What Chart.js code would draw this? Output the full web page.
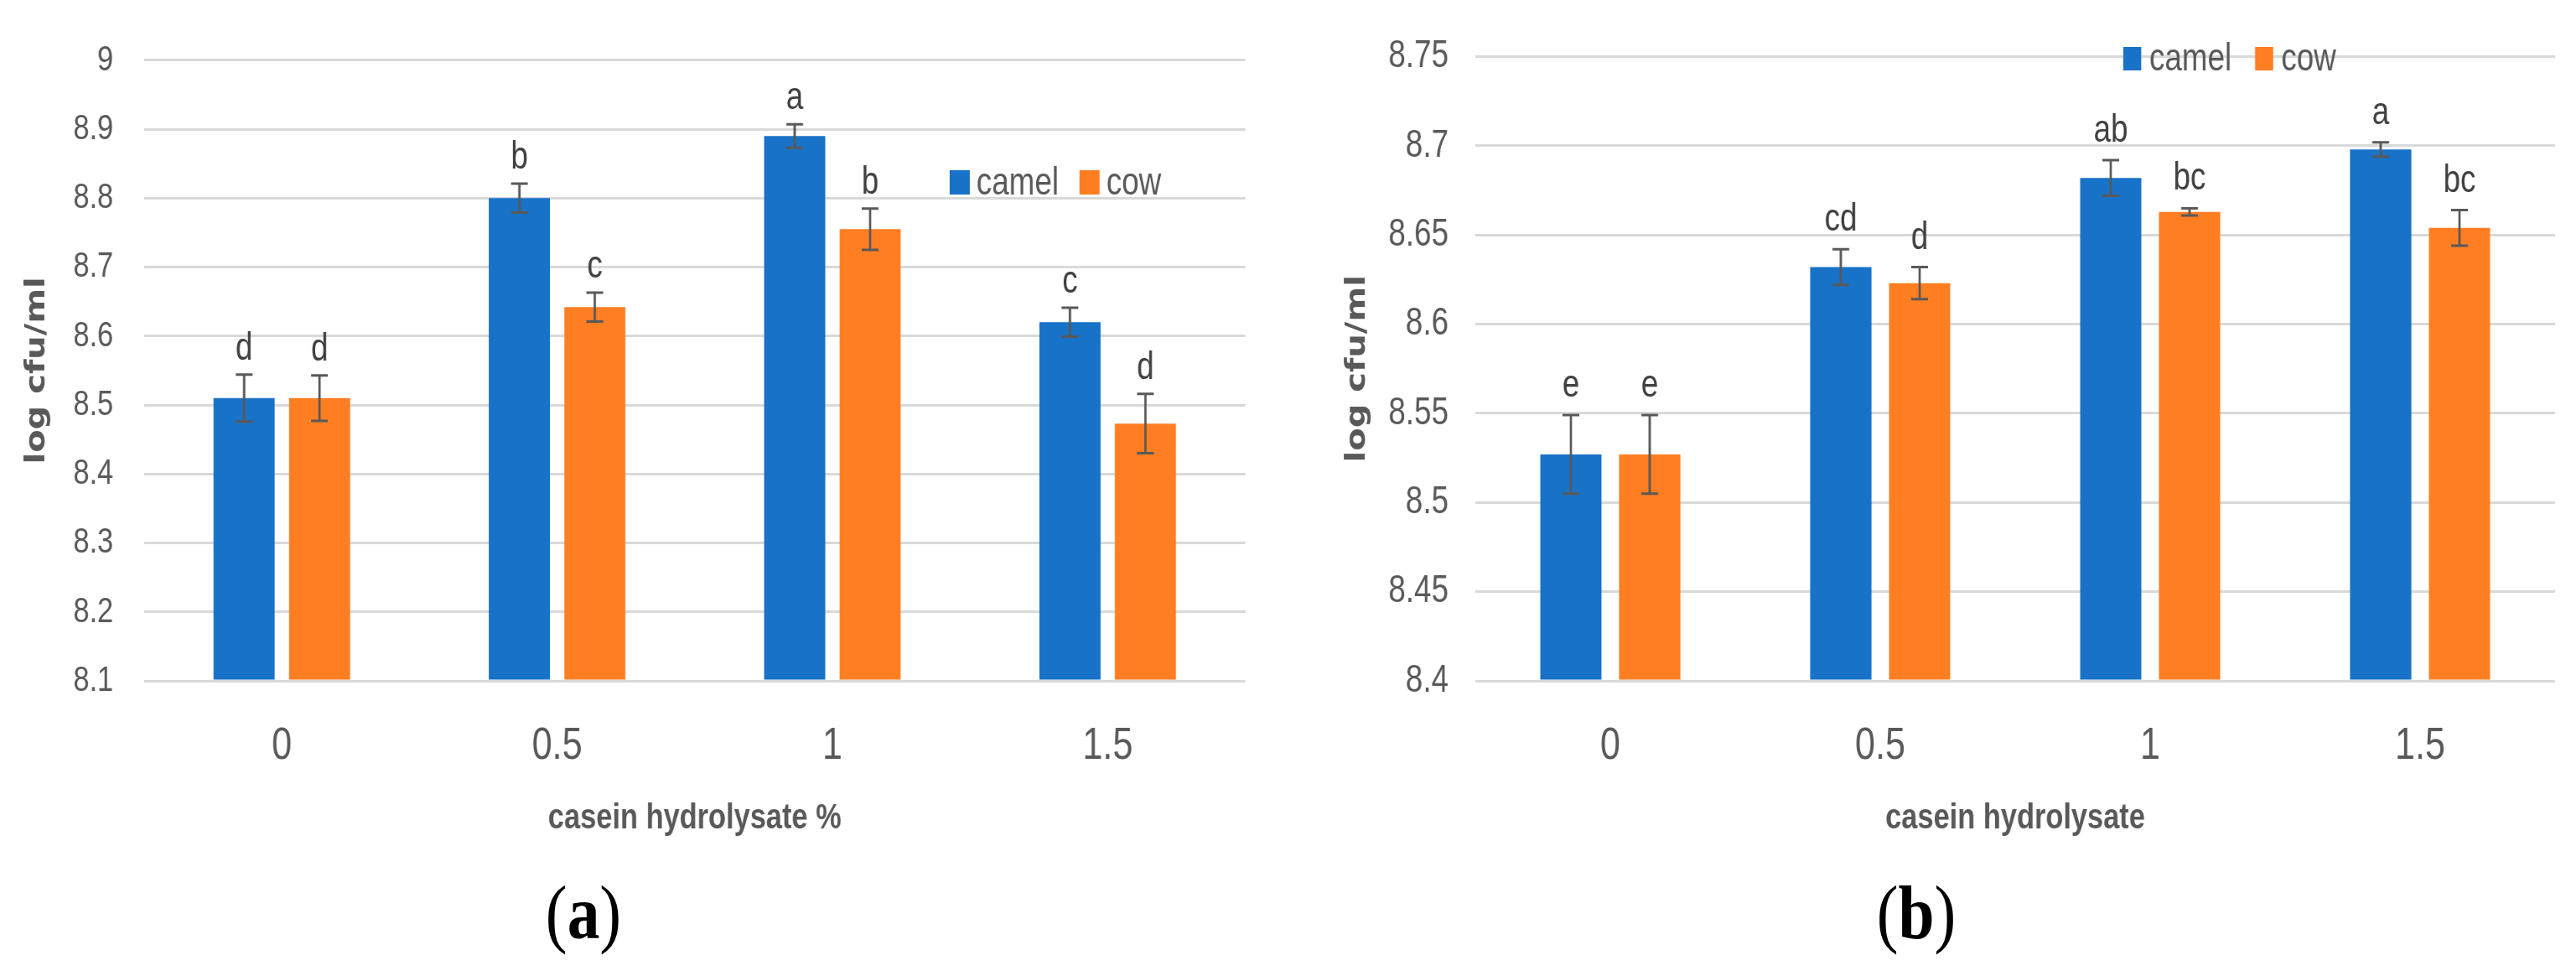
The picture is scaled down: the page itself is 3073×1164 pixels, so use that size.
<!DOCTYPE html>
<html><head><meta charset="utf-8">
<script src="https://cdn.jsdelivr.net/npm/chart.js@4.4.1/dist/chart.umd.min.js"></script>
<style>
html,body{margin:0;padding:0;background:#fff;width:3073px;height:1164px;overflow:hidden;position:relative}
canvas{position:absolute;top:0;transform:scaleX(0.8);transform-origin:0 0}
#ca{left:0}
#cb{left:1560px}
.cap{position:absolute;font-family:"Liberation Serif","Times New Roman",serif;font-size:90px;line-height:90px;color:#000;transform:scaleX(0.86);transform-origin:center top;width:300px;text-align:center}
</style></head><body>
<canvas id="ca" width="1912" height="1040" style="width:1912px;height:1040px"></canvas>
<canvas id="cb" width="1891" height="1040" style="width:1891px;height:1040px"></canvas>
<div class="cap" style="left:546px;top:1044px">(<b>a</b>)</div>
<div class="cap" style="left:2136px;top:1044px">(<b>b</b>)</div>
<script>
// ---------- data ----------
const categories = ['0', '0.5', '1', '1.5'];
const seriesNames = ['camel', 'cow'];

// panel (a)
const camelA = [8.51, 8.80, 8.89, 8.62];
const camelErrA = [0.034, 0.021, 0.017, 0.021];
const camelLettersA = ['d', 'b', 'a', 'c'];
const cowA = [8.51, 8.642, 8.755, 8.473];
const cowErrA = [0.033, 0.021, 0.03, 0.043];
const cowLettersA = ['d', 'c', 'b', 'd'];
const yTicksA = [8.1, 8.2, 8.3, 8.4, 8.5, 8.6, 8.7, 8.8, 8.9, 9];
const yTickLabelsA = ['8.1', '8.2', '8.3', '8.4', '8.5', '8.6', '8.7', '8.8', '8.9', '9'];
const xTitleA = 'casein hydrolysate %';

// panel (b)
const camelB = [8.527, 8.632, 8.682, 8.698];
const camelErrB = [0.022, 0.01, 0.01, 0.004];
const camelLettersB = ['e', 'cd', 'ab', 'a'];
const cowB = [8.527, 8.623, 8.663, 8.654];
const cowErrB = [0.022, 0.009, 0.002, 0.01];
const cowLettersB = ['e', 'd', 'bc', 'bc'];
const yTicksB = [8.4, 8.45, 8.5, 8.55, 8.6, 8.65, 8.7, 8.75];
const yTickLabelsB = ['8.4', '8.45', '8.5', '8.55', '8.6', '8.65', '8.7', '8.75'];
const xTitleB = 'casein hydrolysate';

const yTitle = 'log cfu/ml';

// ---------- style ----------
const BLUE = '#1872C8', ORANGE = '#FF7E22';
const GREY = '#595959';
const SANS = '"Liberation Sans",Arial,sans-serif';

const errorPlugin = {
  id: 'errLetters',
  afterDatasetsDraw(chart, args, opts) {
    const ctx = chart.ctx, y = chart.scales.y;
    chart.data.datasets.forEach((ds, di) => {
      const meta = chart.getDatasetMeta(di);
      meta.data.forEach((bar, i) => {
        const v = ds.data[i], e = ds.errors[i];
        const yt = y.getPixelForValue(v + e), yb = y.getPixelForValue(v - e);
        const x = bar.x, c = opts.cap / 2;
        ctx.save();
        ctx.strokeStyle = GREY;
        ctx.lineWidth = 3.5;
        ctx.beginPath();
        ctx.moveTo(x, yt); ctx.lineTo(x, yb);
        ctx.stroke();
        ctx.lineWidth = 3;
        ctx.beginPath();
        ctx.moveTo(x - c, yt); ctx.lineTo(x + c, yt);
        ctx.moveTo(x - c, yb); ctx.lineTo(x + c, yb);
        ctx.stroke();
        ctx.fillStyle = '#404040';
        ctx.font = opts.letterSize + 'px ' + SANS;
        ctx.textAlign = 'center'; ctx.textBaseline = 'alphabetic';
        ctx.fillText(ds.letters[i], x, yt - opts.letterGap);
        ctx.restore();
      });
    });
  }
};

const legendPlugin = {
  id: 'inLegend',
  afterDraw(chart, args, opts) {
    const ctx = chart.ctx;
    let x = opts.x;
    ctx.save();
    ctx.font = opts.size + 'px ' + SANS;
    ctx.textBaseline = 'alphabetic'; ctx.textAlign = 'left';
    chart.data.datasets.forEach(ds => {
      ctx.fillStyle = ds.backgroundColor;
      ctx.fillRect(x, opts.baseline - opts.boxH, opts.boxW, opts.boxH);
      x += opts.boxW + opts.textGap;
      ctx.fillStyle = GREY;
      ctx.fillText(ds.label, x, opts.baseline);
      x += ctx.measureText(ds.label).width + opts.itemGap;
    });
    ctx.restore();
  }
};

function makeChart(id, cfg) {
  const base = cfg.yTicks[0];
  return new Chart(document.getElementById(id), {
    type: 'bar',
    data: {
      labels: categories,
      datasets: [
        { label: seriesNames[0], data: cfg.camel, errors: cfg.camelErr, letters: cfg.camelLetters,
          backgroundColor: BLUE, base: base, categoryPercentage: cfg.catPct, barPercentage: cfg.barPct },
        { label: seriesNames[1], data: cfg.cow, errors: cfg.cowErr, letters: cfg.cowLetters,
          backgroundColor: ORANGE, base: base, categoryPercentage: cfg.catPct, barPercentage: cfg.barPct }
      ]
    },
    options: {
      responsive: false, animation: false, devicePixelRatio: 1,
      layout: { padding: { left: 0, right: cfg.padRight, top: 60, bottom: 0 } },
      plugins: {
        legend: { display: false }, tooltip: { enabled: false },
        inLegend: cfg.legend,
        errLetters: { cap: 25, letterSize: 46, letterGap: cfg.letterGap }
      },
      scales: {
        x: {
          grid: { display: false }, border: { display: false },
          ticks: { color: GREY, font: { family: SANS, size: 54 }, padding: 38 },
          title: { display: true, text: cfg.xTitle, color: GREY,
                   font: { family: SANS, size: 43, weight: 'bold' }, padding: { top: 0, bottom: 38 } },
          afterFit: s => { s.height = 228; }
        },
        y: {
          min: cfg.yTicks[0], max: cfg.yTicks[cfg.yTicks.length - 1],
          afterBuildTicks: s => { s.ticks = cfg.yTicks.map(v => ({ value: v })); },
          ticks: { color: GREY, font: { family: SANS, size: cfg.yTickSize }, padding: cfg.yTickPad,
                   callback: (v, i) => cfg.yLabels[i] },
          grid: { color: '#D9D9D9', lineWidth: 3, drawTicks: false }, border: { display: false },
          title: { display: true, text: yTitle, color: GREY,
                   font: { family: '"DejaVu Sans",sans-serif', size: 40, weight: 'bold' },
                   padding: { top: cfg.yTitlePad, bottom: 0 } },
          afterFit: s => { s.width = cfg.yAxisW; }
        }
      }
    },
    plugins: [errorPlugin, legendPlugin]
  });
}

makeChart('ca', {
  camel: camelA, camelErr: camelErrA, camelLetters: camelLettersA,
  cow: cowA, cowErr: cowErrA, cowLetters: cowLettersA,
  yTicks: yTicksA, yLabels: yTickLabelsA, xTitle: xTitleA,
  catPct: 0.548, barPct: 0.81, padRight: 55, yAxisW: 215,
  yTickSize: 43, yTickPad: 46, yTitlePad: 32, letterGap: 18,
  legend: { x: 1416, baseline: 232, boxW: 30, boxH: 29, textGap: 10, itemGap: 31, size: 46 }
});

makeChart('cb', {
  camel: camelB, camelErr: camelErrB, camelLetters: camelLettersB,
  cow: cowB, cowErr: cowErrB, cowLetters: cowLettersB,
  yTicks: yTicksB, yLabels: yTickLabelsB, xTitle: xTitleB,
  catPct: 0.584, barPct: 0.777, padRight: 31, yAxisW: 250,
  yTickSize: 46, yTickPad: 40, yTitlePad: 51, letterGap: 22,
  legend: { x: 1216, baseline: 84, boxW: 27, boxH: 28, textGap: 12, itemGap: 35, size: 46 }
});
</script>
</body></html>
